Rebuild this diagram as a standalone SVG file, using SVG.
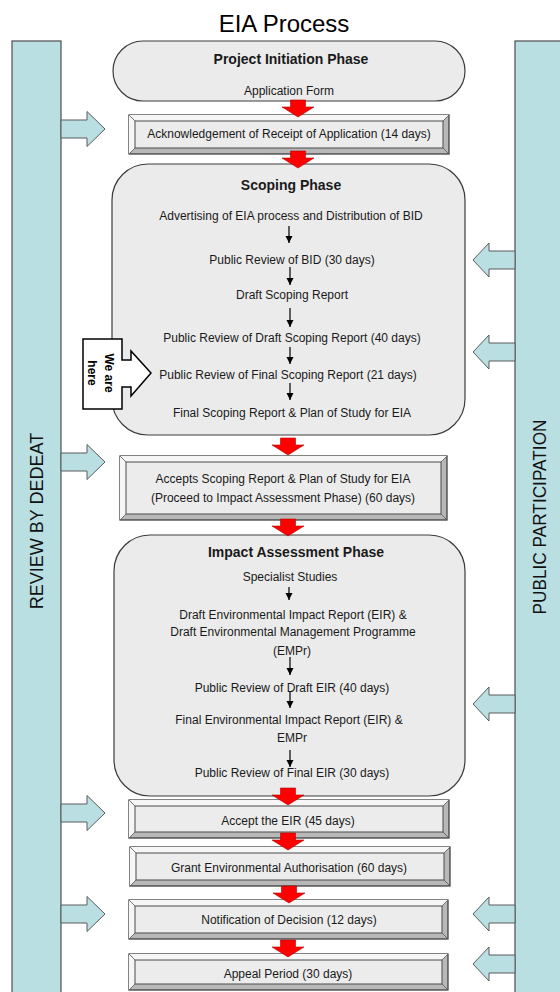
<svg xmlns="http://www.w3.org/2000/svg" xmlns:xlink="http://www.w3.org/1999/xlink" width="560" height="992" viewBox="0 0 560 992">
<style>
text{font-family:"Liberation Sans",Arial,sans-serif;fill:#1a1a1a;}
.t{font-size:12px;text-anchor:middle;}
.h{font-size:14px;font-weight:bold;text-anchor:middle;}
.side{font-size:18px;text-anchor:middle;fill:#111;}
.bar{fill:#b9dfe3;stroke:#4d4d4d;stroke-width:1.2;}
.phase{fill:#ebebeb;stroke:#3c3c3c;stroke-width:1.2;}
.bo{fill:#b8b8b8;stroke:#333;stroke-width:1.2;}
.bl{fill:#f6f6f6;stroke:none;}
.bi{fill:#ececec;stroke:#4a4a4a;stroke-width:1;}
.bd{stroke:#555;stroke-width:0.8;fill:none;}
.red{fill:#ff0000;stroke:#b00000;stroke-width:0.6;}
.blue{fill:#b9dfe3;stroke:#5a5a5a;stroke-width:1;}
.sm{stroke:#000;stroke-width:1.2;fill:none;marker-end:url(#ah);}
</style>
<defs>
<marker id="ah" markerUnits="userSpaceOnUse" markerWidth="8" markerHeight="8" refX="7" refY="3.5" orient="auto"><path d="M0,0 L7,3.5 L0,7 Z" fill="#000"/></marker>
<path id="ra" class="red" d="M-7.5,0 H7.5 V7 H16 L0,17 L-16,7 H-7.5 Z"/>
<path id="bar" class="blue" d="M0,-9 H26 V-17.5 L44,0 L26,17.5 V9 H0 Z"/>
<path id="bal" class="blue" d="M0,-9 H-26 V-17 L-42,0 L-26,17 V9 H0 Z"/>
</defs>
<rect width="560" height="992" fill="#fff"/>
<text x="284" y="32" style="font-size:24px;text-anchor:middle;fill:#000">EIA Process</text>

<g id="review-bar">
<rect class="bar" x="12" y="41" width="49" height="960"/>
<text class="side" transform="translate(43,521) rotate(-90)">REVIEW BY DEDEAT</text>
</g>
<g id="public-bar">
<rect class="bar" x="515" y="41" width="50" height="960"/>
<text class="side" transform="translate(546,517) rotate(-90)" textLength="195" lengthAdjust="spacingAndGlyphs">PUBLIC PARTICIPATION</text>
</g>

<g id="initiation">
<rect class="phase" x="113" y="41" width="352" height="60" rx="30"/>
<text class="h" x="291" y="64">Project Initiation Phase</text>
<text class="t" x="289" y="95">Application  Form</text>
</g>

<g id="ack">
<rect class="bo" x="129" y="115" width="320" height="39"/>
<path class="bl" d="M129,115 H449 L443,121 H135 V148 L129,154 Z"/>
<rect class="bi" x="135" y="121" width="308" height="27"/>
<path class="bd" d="M129,115 L135,121 M449,115 L443,121 M129,154 L135,148 M449,154 L443,148"/>
<text class="t" x="289" y="138">Acknowledgement  of Receipt of Application  (14 days)</text>
</g>

<g id="scoping">
<rect class="phase" x="112" y="164" width="353" height="271" rx="36"/>
<text class="h" x="291" y="190">Scoping Phase</text>
<text class="t" x="291" y="220">Advertising  of EIA process and Distribution  of BID</text>
<text class="t" x="292" y="264">Public  Review of BID  (30 days)</text>
<text class="t" x="292" y="299">Draft Scoping  Report</text>
<text class="t" x="292" y="342">Public  Review of Draft Scoping  Report (40 days)</text>
<text class="t" x="288" y="379">Public  Review of Final Scoping  Report (21 days)</text>
<text class="t" x="292" y="417">Final Scoping  Report &amp; Plan of Study for EIA</text>
</g>

<g id="we-are-here">
<path d="M83,339 H122 V360 H131 V351 L151,373 L131,396 V387 H122 V409 H83 Z" fill="#fff" stroke="#000" stroke-width="1.5"/>
<text transform="translate(105,373) rotate(90)" style="font-size:12px;font-weight:bold;text-anchor:middle;fill:#000">We are</text>
<text transform="translate(88,373) rotate(90)" style="font-size:12px;font-weight:bold;text-anchor:middle;fill:#000">here</text>
</g>

<g id="accepts">
<rect class="bo" x="120" y="456" width="327" height="64"/>
<path class="bl" d="M120,456 H447 L441,462 H126 V514 L120,520 Z"/>
<rect class="bi" x="126" y="462" width="315" height="52"/>
<path class="bd" d="M120,456 L126,462 M447,456 L441,462 M120,520 L126,514 M447,520 L441,514"/>
<text class="t" x="283" y="483">Accepts  Scoping Report &amp; Plan of Study for EIA</text>
<text class="t" x="283" y="502">(Proceed to Impact  Assessment  Phase)  (60 days)</text>
</g>

<g id="impact">
<rect class="phase" x="114" y="535" width="351" height="261" rx="36"/>
<text class="h" x="296" y="557">Impact Assessment  Phase</text>
<text class="t" x="290" y="581">Specialist  Studies</text>
<text class="t" x="293" y="619">Draft Environmental  Impact  Report (EIR) &amp;</text>
<text class="t" x="293" y="636">Draft Environmental  Management  Programme</text>
<text class="t" x="292" y="655">(EMPr)</text>
<text class="t" x="292" y="692">Public  Review of Draft EIR (40 days)</text>
<text class="t" x="289" y="724">Final Environmental  Impact  Report (EIR) &amp;</text>
<text class="t" x="292" y="742">EMPr</text>
<text class="t" x="292" y="777">Public  Review of Final EIR (30 days)</text>
</g>

<g id="accept-eir">
<rect class="bo" x="129" y="800" width="320" height="38"/>
<path class="bl" d="M129,800 H449 L443,806 H135 V832 L129,838 Z"/>
<rect class="bi" x="135" y="806" width="308" height="26"/>
<path class="bd" d="M129,800 L135,806 M449,800 L443,806 M129,838 L135,832 M449,838 L443,832"/>
<text class="t" x="288" y="825">Accept the EIR (45 days)</text>
</g>

<g id="grant">
<rect class="bo" x="130" y="847" width="320" height="39"/>
<path class="bl" d="M130,847 H450 L444,853 H136 V880 L130,886 Z"/>
<rect class="bi" x="136" y="853" width="308" height="27"/>
<path class="bd" d="M130,847 L136,853 M450,847 L444,853 M130,886 L136,880 M450,886 L444,880"/>
<text class="t" x="289" y="872">Grant Environmental  Authorisation  (60 days)</text>
</g>

<g id="notification">
<rect class="bo" x="129" y="900" width="319" height="39"/>
<path class="bl" d="M129,900 H448 L442,906 H135 V933 L129,939 Z"/>
<rect class="bi" x="135" y="906" width="307" height="27"/>
<path class="bd" d="M129,900 L135,906 M448,900 L442,906 M129,939 L135,933 M448,939 L442,933"/>
<text class="t" x="289" y="924">Notification   of Decision  (12 days)</text>
</g>

<g id="appeal">
<rect class="bo" x="129" y="954" width="319" height="36"/>
<path class="bl" d="M129,954 H448 L442,960 H135 V984 L129,990 Z"/>
<rect class="bi" x="135" y="960" width="307" height="24"/>
<path class="bd" d="M129,954 L135,960 M448,954 L442,960 M129,990 L135,984 M448,990 L442,984"/>
<text class="t" x="288" y="978">Appeal Period (30 days)</text>
</g>

<g id="connectors">
<use xlink:href="#ra" x="298" y="100"/>
<use xlink:href="#ra" x="298" y="151"/>
<use xlink:href="#ra" x="288" y="438"/>
<use xlink:href="#ra" x="288" y="519"/>
<use xlink:href="#ra" x="288" y="788"/>
<use xlink:href="#ra" x="288" y="833"/>
<use xlink:href="#ra" x="289" y="886"/>
<use xlink:href="#ra" x="288" y="940"/>

<line class="sm" x1="289" y1="226" x2="289" y2="243"/>
<line class="sm" x1="290" y1="267" x2="290" y2="285"/>
<line class="sm" x1="290" y1="308" x2="290" y2="327"/>
<line class="sm" x1="290" y1="347" x2="290" y2="364"/>
<line class="sm" x1="290" y1="383" x2="290" y2="400"/>
<line class="sm" x1="289" y1="587" x2="289" y2="600"/>
<line class="sm" x1="290" y1="657" x2="290" y2="675"/>
<line class="sm" x1="290" y1="692" x2="290" y2="708"/>
<line class="sm" x1="290" y1="750" x2="290" y2="767"/>

<use xlink:href="#bar" x="61" y="129"/>
<use xlink:href="#bar" x="61" y="462"/>
<use xlink:href="#bar" x="61" y="813"/>
<use xlink:href="#bar" x="61" y="914"/>

<use xlink:href="#bal" x="515" y="260"/>
<use xlink:href="#bal" x="515" y="352"/>
<use xlink:href="#bal" x="515" y="704"/>
<use xlink:href="#bal" x="515" y="914"/>
<use xlink:href="#bal" x="515" y="964"/>
</g>
</svg>
